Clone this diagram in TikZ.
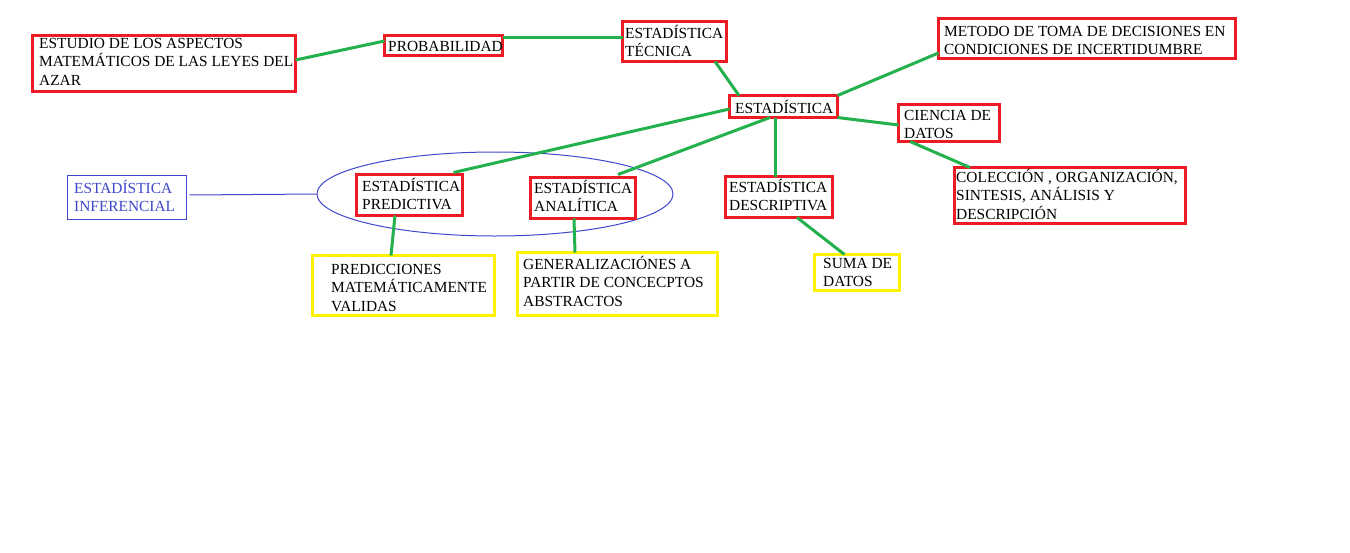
\documentclass[tikz,border=0pt]{standalone}
\usepackage{fontspec}
\setmainfont{Liberation Serif}
\usetikzlibrary{shapes.geometric,calc}
\definecolor{redC}{HTML}{ED1C24}
\definecolor{yelC}{HTML}{FFF200}
\definecolor{grnC}{HTML}{22B14C}
\definecolor{bluC}{HTML}{3F48CC}
\newcommand\mlines[1]{\begin{tabular}[t]{@{}l@{}}#1\end{tabular}}
\tikzset{
  boxbase/.style={rectangle, anchor=north west, inner sep=0pt, outer sep=0pt},
  redbox/.style={boxbase, draw=redC, line width=3pt},
  yelbox/.style={boxbase, draw=yelC, line width=3pt},
  blubox/.style={boxbase, draw=bluC, line width=1pt},
  txt/.style={anchor=base west, inner sep=0pt, font=\fontsize{15.4pt}{18.7pt}\selectfont},
  link/.style={draw=grnC, line width=3pt},
  bluelink/.style={draw=bluC, line width=1pt}
}
\begin{document}
\begin{tikzpicture}[x=1pt,y=-1pt]
\useasboundingbox (0,0) rectangle (1350,552);
\fill[white] (0,0) rectangle (1350,552);

% ellipse
\node[ellipse, draw=bluC, line width=1pt, minimum width=356pt, minimum height=84pt, inner sep=0pt] (ell) at (495,194) {};

% boxes
\node[redbox, minimum width=263pt, minimum height=56pt] (estudio) at (32.5,35.5) {};
\node[redbox, minimum width=118pt, minimum height=20pt] (prob) at (384.5,35.5) {};
\node[redbox, minimum width=104pt, minimum height=40pt] (tecnica) at (622.5,21.5) {};
\node[redbox, minimum width=297pt, minimum height=40pt] (metodo) at (938.5,18.5) {};
\node[redbox, minimum width=108pt, minimum height=22pt] (est) at (729.5,95.5) {};
\node[redbox, minimum width=101pt, minimum height=37pt] (ciencia) at (898.5,104.5) {};
\node[redbox, minimum width=231pt, minimum height=56pt] (coleccion) at (954.5,167.5) {};
\node[redbox, minimum width=107pt, minimum height=41pt] (descriptiva) at (725.5,176.5) {};
\node[yelbox, minimum width=85pt, minimum height=36pt] (suma) at (814.5,254.5) {};
\node[redbox, minimum width=106pt, minimum height=41pt] (predictiva) at (356.5,174.5) {};
\node[redbox, minimum width=105pt, minimum height=41pt] (analitica) at (530.5,177.5) {};
\node[yelbox, minimum width=182pt, minimum height=60pt] (predicciones) at (312.5,255.5) {};
\node[yelbox, minimum width=200pt, minimum height=63pt] (generaliz) at (517.5,252.5) {};
\node[blubox, minimum width=119pt, minimum height=44pt] (inferencial) at (67.5,175.5) {};

% texts
\node[txt] (estudio-t) at (39,48) {\mlines{ESTUDIO DE LOS ASPECTOS\\MATEMÁTICOS DE LAS LEYES DEL\\AZAR}};
\node[txt] (prob-t) at (388,51) {PROBABILIDAD};
\node[txt] (tecnica-t) at (625,38) {\mlines{ESTADÍSTICA\\TÉCNICA}};
\node[txt] (metodo-t) at (944,36) {\mlines{METODO DE TOMA DE DECISIONES EN\\CONDICIONES DE INCERTIDUMBRE}};
\node[txt] (est-t) at (735,113) {ESTADÍSTICA};
\node[txt] (ciencia-t) at (904,120) {\mlines{CIENCIA DE\\DATOS}};
\node[txt] (coleccion-t) at (956,182) {\mlines{COLECCIÓN , ORGANIZACIÓN,\\SINTESIS, ANÁLISIS Y\\DESCRIPCIÓN}};
\node[txt] (descriptiva-t) at (729,192) {\mlines{ESTADÍSTICA\\DESCRIPTIVA}};
\node[txt] (suma-t) at (823,268) {\mlines{SUMA DE\\DATOS}};
\node[txt] (predictiva-t) at (362,191) {\mlines{ESTADÍSTICA\\PREDICTIVA}};
\node[txt] (analitica-t) at (534,193) {\mlines{ESTADÍSTICA\\ANALÍTICA}};
\node[txt] (predicciones-t) at (331,274) {\mlines{PREDICCIONES\\MATEMÁTICAMENTE\\VALIDAS}};
\node[txt] (generaliz-t) at (523,269) {\mlines{GENERALIZACIÓNES A\\PARTIR DE CONCECPTOS\\ABSTRACTOS}};
\node[txt, text=bluC] (inferencial-t) at (74,193) {\mlines{ESTADÍSTICA\\INFERENCIAL}};

% connectors
\draw[link] ($(estudio.north west)+(263,24.5)$) -- ($(prob.north west)+(0,5.5)$);
\draw[link] ($(prob.north west)+(118,1.5)$) -- ($(tecnica.north west)+(0,15.5)$);
\draw[link] ($(tecnica.north west)+(92.5,40)$) -- ($(est.north west)+(9.5,0)$);
\draw[link] ($(est.north west)+(108,0)$) -- ($(metodo.north west)+(0,34.5)$);
\draw[link] ($(est.north west)+(108,22)$) -- ($(ciencia.north west)+(0,20.5)$);
\draw[link] ($(ciencia.north west)+(11.5,37)$) -- ($(coleccion.north west)+(15.5,0)$);
\draw[link] ($(est.north west)+(0,13.5)$) -- ($(predictiva.north west)+(97,-2)$);
\draw[link] ($(est.north west)+(40.5,22)$) -- ($(analitica.north west)+(87.5,-3)$);
\draw[link] ($(est.north west)+(45.5,22)$) -- ($(descriptiva.north west)+(49.5,0)$);
\draw[link] ($(descriptiva.north west)+(71.5,41)$) -- ($(suma.north west)+(30,0)$);
\draw[link] ($(predictiva.north west)+(38.5,41)$) -- ($(predicciones.north west)+(78.5,0)$);
\draw[link] ($(analitica.north west)+(43.5,41)$) -- ($(generaliz.north west)+(57.5,0)$);
\draw[bluelink] ($(inferencial.north west)+(122,19.5)$) -- (ell.west);
\end{tikzpicture}
\end{document}
